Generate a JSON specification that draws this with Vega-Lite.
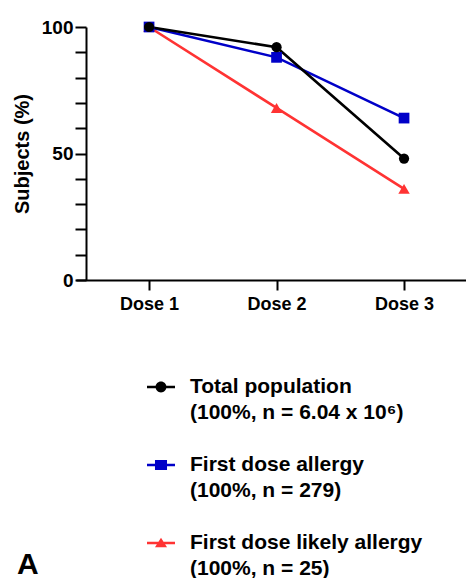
{
  "$schema": "https://vega.github.io/schema/vega-lite/v6.json",
  "width": 390,
  "height": 253,
  "autosize": {"type": "none"},
  "padding": {"left": 76, "top": 27, "right": 0, "bottom": 298},
  "background": "white",
  "config": {
    "view": {"stroke": null},
    "font": "Liberation Sans",
    "axis": {
      "grid": false,
      "domainColor": "black",
      "domainWidth": 2,
      "tickColor": "black",
      "tickWidth": 2,
      "labelColor": "black",
      "labelFont": "Liberation Sans",
      "labelFontWeight": "bold",
      "labelFontSize": 18,
      "titleColor": "black",
      "titleFont": "Liberation Sans"
    }
  },
  "title": {
    "text": "A",
    "orient": "bottom",
    "anchor": "start",
    "frame": "group",
    "font": "Liberation Sans",
    "fontSize": 30,
    "fontWeight": "bold",
    "color": "black",
    "offset": -29,
    "dx": -59
  },
  "data": {
    "values": [
      {"series": "First dose likely allergy", "dose": 1, "pct": 100},
      {"series": "First dose likely allergy", "dose": 2, "pct": 68},
      {"series": "First dose likely allergy", "dose": 3, "pct": 36},
      {"series": "First dose allergy", "dose": 1, "pct": 100},
      {"series": "First dose allergy", "dose": 2, "pct": 88},
      {"series": "First dose allergy", "dose": 3, "pct": 64},
      {"series": "Total population", "dose": 1, "pct": 100},
      {"series": "Total population", "dose": 2, "pct": 92},
      {"series": "Total population", "dose": 3, "pct": 48}
    ]
  },
  "encoding": {
    "x": {
      "field": "dose",
      "type": "quantitative",
      "scale": {"domain": [0.427, 3.486], "nice": false, "zero": false},
      "axis": {
        "values": [1, 2, 3],
        "labelExpr": "'Dose ' + datum.value",
        "title": null,
        "tickSize": 10,
        "labelPadding": 5,
        "labelFontSize": 18,
        "labelFlush": false
      }
    },
    "y": {
      "field": "pct",
      "type": "quantitative",
      "scale": {"domain": [0, 100], "nice": false},
      "axis": {
        "values": [0, 10, 20, 30, 40, 50, 60, 70, 80, 90, 100],
        "labelExpr": "datum.value % 50 === 0 ? datum.label : ''",
        "offset": -10,
        "tickSize": 11,
        "labelPadding": 2,
        "labelFontSize": 19,
        "title": "Subjects (%)",
        "titleFontSize": 20,
        "titleFontWeight": "bold",
        "titlePadding": 9
      }
    },
    "color": {
      "field": "series",
      "type": "nominal",
      "scale": {
        "domain": ["Total population", "First dose allergy", "First dose likely allergy"],
        "range": ["#000000", "#0000c8", "#ff3333"]
      },
      "legend": {
        "orient": "none",
        "legendX": 71,
        "legendY": 346,
        "title": null,
        "direction": "vertical",
        "padding": 0,
        "symbolSize": 784,
        "labelFont": "Liberation Sans",
        "labelFontSize": 21,
        "labelFontWeight": "bold",
        "labelColor": "black",
        "labelOffset": 15,
        "labelLimit": 400,
        "labelBaseline": "middle",
        "rowPadding": 28,
        "labelExpr": "datum.label === 'Total population' ? ['Total population', '(100%, n = 6.04 x 10⁶)'] : datum.label === 'First dose allergy' ? ['First dose allergy', '(100%, n = 279)'] : ['First dose likely allergy', '(100%, n = 25)']",
        "encode": {
          "labels": {"update": {"lineHeight": {"value": 26}}},
          "symbols": {
            "update": {
              "shape": {"signal": "datum.value === 'Total population' ? 'M-1,-0.09H1V0.09H-1Z M-0.39,0A0.39,0.39 0 1 1 0.39,0A0.39,0.39 0 1 1 -0.39,0Z' : datum.value === 'First dose allergy' ? 'M-1,-0.09H1V0.09H-1Z M-0.43,-0.36H0.43V0.36H-0.43Z' : 'M-1,-0.09H1V0.09H-1Z M0,-0.38L0.43,0.3L-0.43,0.3Z'"},
              "size": {"value": 784},
              "fill": {"scale": "color", "field": "value"},
              "fillOpacity": {"value": 1},
              "strokeWidth": {"value": 0}
            }
          }
        }
      }
    }
  },
  "layer": [
    {"mark": {"type": "line", "strokeWidth": 2.6}},
    {
      "transform": [{"filter": "datum.series === 'First dose likely allergy'"}],
      "mark": {"type": "point", "shape": "triangle-up", "filled": true, "opacity": 1, "size": 130}
    },
    {
      "transform": [{"filter": "datum.series === 'First dose allergy'"}],
      "mark": {"type": "point", "shape": "square", "filled": true, "opacity": 1, "size": 115}
    },
    {
      "transform": [{"filter": "datum.series === 'Total population'"}],
      "mark": {"type": "point", "shape": "circle", "filled": true, "opacity": 1, "size": 105}
    }
  ]
}
